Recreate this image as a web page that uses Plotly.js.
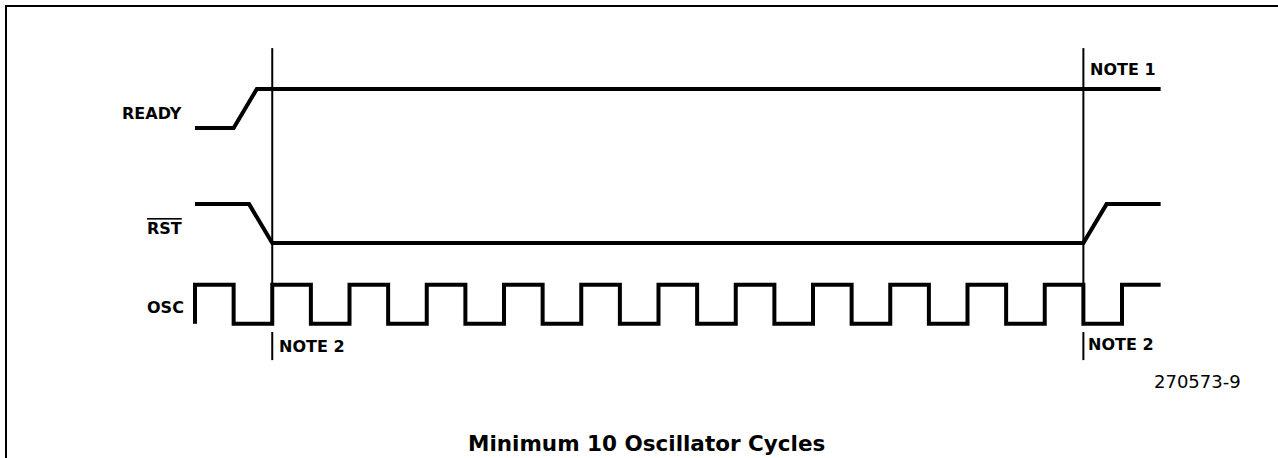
<!DOCTYPE html>
<html>
<head>
<meta charset="utf-8">
<script src="https://cdn.plot.ly/plotly-3.0.1.min.js"></script>
<style>html,body{margin:0;padding:0;background:#fff;}#chart{width:1278px;height:458px;}</style>
</head>
<body>
<div id="chart"></div>
<script>
// Time in oscillator periods, logic levels 0/1
const signalNames = ["READY", "RST", "OSC"];
const readyTime  = [0, 0.5, 0.8, 12.5];
const readyLevel = [0, 0, 1, 1];
const rstTime    = [0, 0.7, 1.0, 11.5, 11.8, 12.5];
const rstLevel   = [1, 1, 0, 0, 1, 1];
const oscTime    = [0, 0, 0.5, 1, 1.5, 2, 2.5, 3, 3.5, 4, 4.5, 5, 5.5, 6, 6.5, 7, 7.5, 8, 8.5, 9, 9.5, 10, 10.5, 11, 11.5, 12, 12.5];
const oscLevel   = [0, 1, 0, 1, 0, 1, 0, 1, 0, 1, 0, 1, 0, 1, 0, 1, 0, 1, 0, 1, 0, 1, 0, 1, 0, 1, 1];
const markerTimes = [1, 11.5];
const markerNotes = ["NOTE 2", "NOTE 2"];
const topNote = "NOTE 1";
const figureId = "270573-9";
const caption = "Minimum 10 Oscillator Cycles";

// layout geometry (row baselines in y units)
const rowBase = {READY: 8.46, RST: 5.51, OSC: 3.44};
const sig = {color: "#000", width: 4};

function shift(levels, base) { return levels.map(v => v + base); }

const traces = [
  {x: readyTime, y: shift(readyLevel, rowBase.READY), mode: "lines", line: Object.assign({shape: "linear"}, sig), hoverinfo: "skip"},
  {x: rstTime, y: shift(rstLevel, rowBase.RST), mode: "lines", line: Object.assign({shape: "linear"}, sig), hoverinfo: "skip"},
  {x: oscTime, y: shift(oscLevel, rowBase.OSC), mode: "lines", line: Object.assign({shape: "hv"}, sig), hoverinfo: "skip"}
];

const lineTop = 10.51, lineBottom = rowBase.OSC + 1;
const tickTop = 3.23, tickBottom = 2.51;
const shapes = [];
markerTimes.forEach(t => {
  shapes.push({type: "line", xref: "x", yref: "y", x0: t, x1: t, y0: lineBottom, y1: lineTop, line: {color: "#000", width: 2}});
  shapes.push({type: "line", xref: "x", yref: "y", x0: t, x1: t, y0: tickBottom, y1: tickTop, line: {color: "#000", width: 2}});
});
shapes.push({type: "rect", xref: "paper", yref: "paper", x0: 6/1278, x1: 1.02, y0: -0.02, y1: 1 - 6/458, line: {color: "#000", width: 2}, fillcolor: "rgba(0,0,0,0)"});

const lblFont = {family: "DejaVu Sans", size: 16, color: "#000"};
const annotations = [
  {x: -0.14, y: 8.846, text: "<b>" + signalNames[0] + "</b>", xanchor: "right"},
  {x: -0.14, y: 5.897, text: "<b><span style=\"text-decoration:overline\">" + signalNames[1] + "</span></b>", xanchor: "right"},
  {x: -0.12, y: 3.87, text: "<b>" + signalNames[2] + "</b>", xanchor: "right"},
  {x: 11.56, y: 9.95, text: "<b>" + topNote + "</b>", xanchor: "left"},
  {x: markerTimes[0] + 0.06, y: 2.85, text: "<b>" + markerNotes[0] + "</b>", xanchor: "left"},
  {x: markerTimes[1] + 0.04, y: 2.9, text: "<b>" + markerNotes[1] + "</b>", xanchor: "left"}
].map(a => Object.assign({xref: "x", yref: "y", showarrow: false, yanchor: "middle", font: lblFont}, a));
annotations.push({xref: "x", yref: "y", x: 13.57, y: 1.95, text: figureId, showarrow: false, xanchor: "right", yanchor: "middle", font: {family: "DejaVu Sans", size: 18, color: "#000"}});
annotations.push({xref: "x", yref: "y", x: 5.85, y: 0.36, text: "<b>" + caption + "</b>", showarrow: false, xanchor: "center", yanchor: "middle", font: {family: "DejaVu Sans", size: 21.5, color: "#000"}});

const layout = {
  width: 1278, height: 458,
  margin: {l: 0, r: 0, t: 0, b: 0},
  paper_bgcolor: "#fff", plot_bgcolor: "#fff",
  showlegend: false,
  xaxis: {range: [-195/77.25, 1083/77.25], visible: false, fixedrange: true},
  yaxis: {range: [0, 458/39], visible: false, fixedrange: true},
  shapes: shapes,
  annotations: annotations
};
Plotly.newPlot("chart", traces, layout, {staticPlot: true, displayModeBar: false});
</script>
</body>
</html>
